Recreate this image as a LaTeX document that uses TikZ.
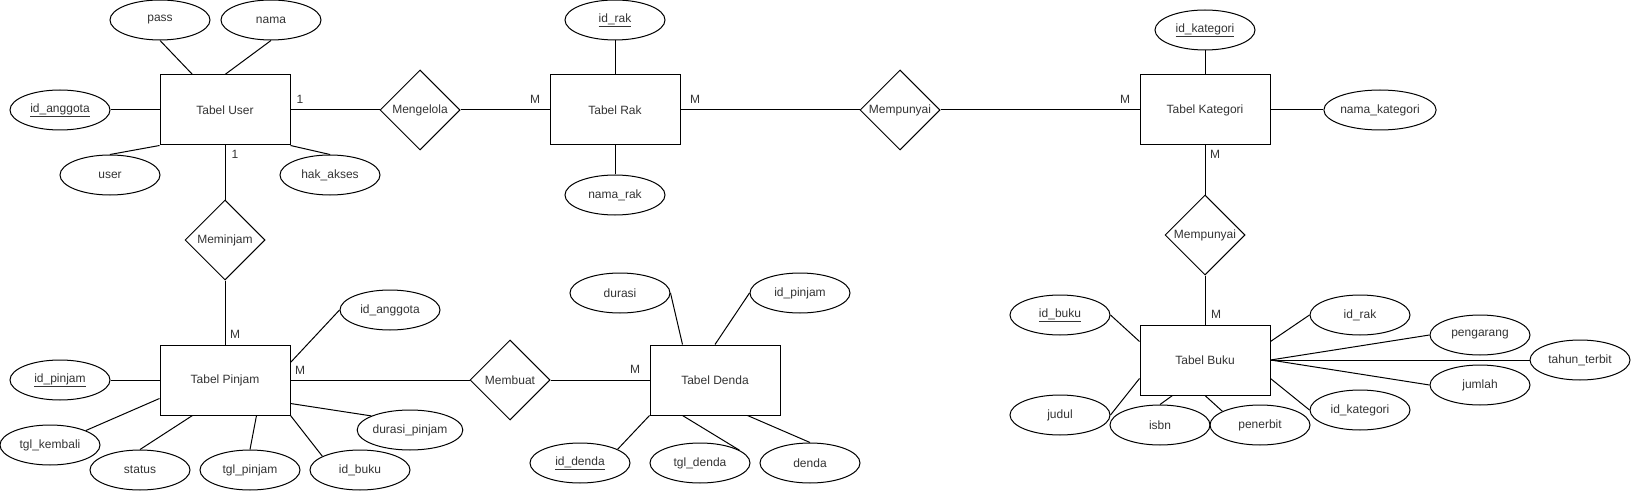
\documentclass[tikz,border=0pt]{standalone}
\usepackage{fontspec}
\setmainfont{Liberation Sans}
\usepackage{tikz}
\usetikzlibrary{positioning, shapes.geometric}
\definecolor{txtgray}{HTML}{333333}
\tikzset{
	every node/.append style={
		font={\fontsize{12}{14}\selectfont},
		text=txtgray,
	},
	entity/.append style={
		draw,
		rectangle,
		line width=1pt,
		minimum width=130pt,
		minimum height=70pt,
	},
	attr/.append style={
		draw,
		ellipse,
		line width=1pt,
		inner sep=0pt,
		minimum width=100pt,
		minimum height=40pt,
	},
	rel/.append style={
		draw,
		diamond,
		line width=1pt,
		inner sep=0pt,
		minimum width=80pt,
		minimum height=80pt,
	},
	card/.append style={
		inner sep=0pt,
	},
	conn/.append style={
		line width=1pt,
	}
}

\begin{document}
\begin{tikzpicture}[x=1pt, y=-1pt]
		\useasboundingbox (0,0) rectangle (1631,492);
		% entitas
		\node(tuser)[entity] at (225,110) {Tabel User};
		\node(trak)[entity] at (615,110) {Tabel Rak};
		\node(tkat)[entity] at (1205,110) {Tabel Kategori};
		\node(tpinjam)[entity] at (225,380) {Tabel Pinjam};
		\node(tdenda)[entity] at (715,380) {Tabel Denda};
		\node(tbuku)[entity] at (1205,360) {Tabel Buku};
		
		% relasi
		\node(mengelola)[rel] at (420,110) {Mengelola};
		\node(mempunyaia)[rel] at (900,110) {Mempunyai};
		\node(mempunyaib)[rel] at (1205,235) {Mempunyai};
		\node(meminjam)[rel] at (225,240) {Meminjam};
		\node(membuat)[rel] at (510,380) {Membuat};
		
		% atribut user
		\node(pass)[attr] at (160,20) {pass};
		\node(nama)[attr] at (271,20) {nama};
		\node(idang)[attr] at (60,110) {\underline{id\_anggota}};
		\node(usr)[attr] at (110,175) {user};
		\node(hak)[attr] at (330,175) {hak\_akses};
		
		% atribut rak
		\node(idrak)[attr] at (615,20) {\underline{id\_rak}};
		\node(namarak)[attr] at (615,195) {nama\_rak};
		
		% atribut kategori
		\node(idkat)[attr] at (1205,30) {\underline{id\_kategori}};
		\node(namakat)[attr] at (1380,110) {nama\_kategori};
		
		% atribut pinjam
		\node(idpinjam)[attr] at (60,380) {\underline{id\_pinjam}};
		\node(idangp)[attr] at (390,310) {id\_anggota};
		\node(tglkembali)[attr] at (50,445) {tgl\_kembali};
		\node(status)[attr] at (140,470) {status};
		\node(tglpinjam)[attr] at (250,470) {tgl\_pinjam};
		\node(idbukup)[attr] at (360,470) {id\_buku};
		\node(durasip)[attr] at (410,430) {durasi\_pinjam};
		
		% atribut denda
		\node(durasi)[attr] at (620,293) {durasi};
		\node(idpinjamd)[attr] at (800,293) {id\_pinjam};
		\node(iddenda)[attr] at (580,463) {\underline{id\_denda}};
		\node(tgldenda)[attr] at (700,463) {tgl\_denda};
		\node(denda)[attr] at (810,463) {denda};
		
		% atribut buku
		\node(idbuku)[attr] at (1060,315) {\underline{id\_buku}};
		\node(idrakb)[attr] at (1360,315) {id\_rak};
		\node(pengarang)[attr] at (1480,335) {pengarang};
		\node(tahun)[attr] at (1580,360) {tahun\_terbit};
		\node(jumlah)[attr] at (1480,385) {jumlah};
		\node(idkatb)[attr] at (1360,410) {id\_kategori};
		\node(judul)[attr] at (1060,415) {judul};
		\node(isbn)[attr] at (1160,425) {isbn};
		\node(penerbit)[attr] at (1260,425) {penerbit};
		
		% kardinalitas
		\node(cua)[card] at (300,99) {1};
		\node(cub)[card] at (235,154) {1};
		\node(cra)[card] at (535,99) {M};
		\node(crb)[card] at (695,99) {M};
		\node(cka)[card] at (1125,99) {M};
		\node(ckb)[card] at (1215,154) {M};
		\node(cbk)[card] at (1216,314) {M};
		\node(cpa)[card] at (235,334) {M};
		\node(cpb)[card] at (300,370) {M};
		\node(cdn)[card] at (635,369) {M};
		
		% relasi antar entitas
		\draw[conn] (tuser.east) -- (mengelola.west);
		\draw[conn] (mengelola.east) -- (trak.west);
		\draw[conn] (trak.east) -- (mempunyaia.west);
		\draw[conn] (mempunyaia.east) -- (tkat.west);
		\draw[conn] (tkat.south) -- (mempunyaib.north);
		\draw[conn] (mempunyaib.south) -- (tbuku.north);
		\draw[conn] (tuser.south) -- (meminjam.north);
		\draw[conn] (meminjam.south) -- (tpinjam.north);
		\draw[conn] (tpinjam.east) -- (membuat.west);
		\draw[conn] (membuat.east) -- (tdenda.west);
		
		% garis atribut user
		\draw[conn] (pass.south) -- ([xshift=33pt]tuser.north west);
		\draw[conn] (nama.south) -- (tuser.north);
		\draw[conn] (idang.east) -- (tuser.west);
		\draw[conn] (usr.north) -- (tuser.south west);
		\draw[conn] (hak.north) -- (tuser.south east);
		
		% garis atribut rak dan kategori
		\draw[conn] (idrak.south) -- (trak.north);
		\draw[conn] (namarak.north) -- (trak.south);
		\draw[conn] (idkat.south) -- (tkat.north);
		\draw[conn] (namakat.west) -- (tkat.east);
		
		% garis atribut pinjam
		\draw[conn] (idpinjam.east) -- (tpinjam.west);
		\draw[conn] (idangp.west) -- ([yshift=-18pt]tpinjam.north east);
		\draw[conn] (tglkembali.22) -- ([yshift=17pt]tpinjam.south west);
		\draw[conn] (status.north) -- ([xshift=33pt]tpinjam.south west);
		\draw[conn] (tglpinjam.north) -- ([xshift=97pt]tpinjam.south west);
		\draw[conn] (idbukup.160) -- (tpinjam.south east);
		\draw[conn] (durasip.160) -- ([yshift=12pt]tpinjam.south east);
		
		% garis atribut denda
		\draw[conn] (durasi.east) -- ([xshift=33pt]tdenda.north west);
		\draw[conn] (idpinjamd.west) -- (tdenda.north);
		\draw[conn] (iddenda.20) -- (tdenda.south west);
		\draw[conn] (tgldenda.18) -- ([xshift=33pt]tdenda.south west);
		\draw[conn] (denda.north) -- ([xshift=98pt]tdenda.south west);
		
		% garis atribut buku
		\draw[conn] (idbuku.east) -- ([yshift=-17pt]tbuku.north west);
		\draw[conn] (idrakb.west) -- ([yshift=-17pt]tbuku.north east);
		\draw[conn] (pengarang.west) -- (tbuku.east);
		\draw[conn] (tahun.west) -- (tbuku.east);
		\draw[conn] (jumlah.west) -- (tbuku.east);
		\draw[conn] (idkatb.west) -- ([yshift=17pt]tbuku.south east);
		\draw[conn] (judul.east) -- ([yshift=17pt]tbuku.south west);
		\draw[conn] (isbn.north) -- ([xshift=33pt]tbuku.south west);
		\draw[conn] (penerbit.160) -- (tbuku.south);
\end{tikzpicture}
\end{document}
